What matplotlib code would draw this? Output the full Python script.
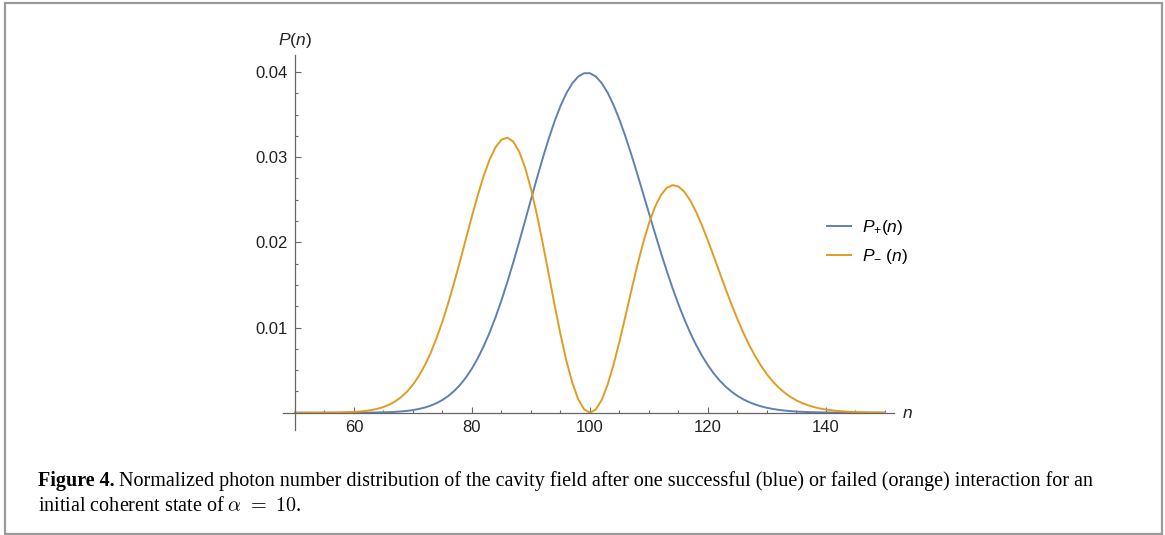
import numpy as np
import matplotlib
matplotlib.use('Agg')
import matplotlib.pyplot as plt
from matplotlib.ticker import MultipleLocator
from matplotlib.patches import Rectangle

# photon number n: coarse in the flat tails, every integer in the middle
n = np.concatenate([np.arange(50, 60, 2), np.arange(60, 141), np.arange(142, 151, 2)])

p_plus = [0.0, 0.0, 0.0000002, 0.0000005, 0.0000016,
          # 60 .. 140
          0.0000045, 0.0000074, 0.0000119, 0.0000188, 0.0000294, 0.0000451, 0.0000683, 0.000102,
          0.000150, 0.000217, 0.000311, 0.000437, 0.000608, 0.000832, 0.001125, 0.001500,
          0.001973, 0.002562, 0.003285, 0.004158, 0.005198, 0.006417, 0.007826, 0.009428,
          0.011224, 0.013205, 0.015355, 0.017649, 0.020056, 0.022535, 0.025039, 0.027515,
          0.029908, 0.032159, 0.034212, 0.036012, 0.037513, 0.038673, 0.039462, 0.039861,
          0.039861, 0.039466, 0.038692, 0.037565, 0.036120, 0.034400, 0.032453, 0.030330,
          0.028083, 0.025764, 0.023422, 0.021101, 0.018840, 0.016673, 0.014625, 0.012718,
          0.010964, 0.009371, 0.007941, 0.006673, 0.005561, 0.004596, 0.003767, 0.003063,
          0.002470, 0.001976, 0.001568, 0.001235, 0.000965, 0.000748, 0.000575, 0.000439,
          0.000333, 0.000250, 0.000187, 0.000138, 0.000102, 0.0000745, 0.0000540, 0.0000388,
          0.0000277,
          # 142 .. 150
          0.0000138, 0.0000067, 0.0000032, 0.0000015, 0.0000007]

p_minus = [0.0000004, 0.0000014, 0.0000045, 0.000013, 0.000036,
           # 60 .. 140
           0.000091, 0.000141, 0.000214, 0.000319, 0.000469, 0.000675, 0.000958, 0.001339,
           0.001839, 0.002480, 0.003307, 0.004315, 0.005560, 0.007031, 0.008760, 0.010732,
           0.012929, 0.015326, 0.017871, 0.020487, 0.023094, 0.025578, 0.027835, 0.029739,
           0.031183, 0.032061, 0.032290, 0.031827, 0.030650, 0.028778, 0.026279, 0.023269,
           0.019873, 0.016278, 0.012656, 0.009204, 0.006104, 0.003521, 0.001589, 0.000399,
           0.0, 0.000391, 0.001527, 0.003319, 0.005647, 0.008362, 0.011306, 0.014313,
           0.017227, 0.019910, 0.022241, 0.024132, 0.025525, 0.026390, 0.026724, 0.026558,
           0.025934, 0.024912, 0.023562, 0.021964, 0.020193, 0.018320, 0.016409, 0.014520,
           0.012695, 0.010973, 0.009378, 0.007933, 0.006638, 0.005497, 0.004503, 0.003656,
           0.002943, 0.002341, 0.001851, 0.001442, 0.001123, 0.000863, 0.000657, 0.000495,
           0.000371,
           # 142 .. 150
           0.000202, 0.000107, 0.000055, 0.000028, 0.000014]

x_ticks = [60, 80, 100, 120, 140]
y_ticks = [0.01, 0.02, 0.03, 0.04]
y_labels = ['0.01', '0.02', '0.03', '0.04']

labels = [r'$P_{+}(n)$', r'$P_{-}\ (n)$']
caption_bold = 'Figure 4.'
caption_1 = ('Normalized photon number distribution of the cavity field after one successful '
             '(blue) or failed (orange) interaction for an')
caption_2 = r'initial coherent state of $\alpha\ =\ 10$.'

plt.rcParams['font.family'] = 'Liberation Sans'
plt.rcParams['mathtext.fontset'] = 'custom'
plt.rcParams['mathtext.rm'] = 'Liberation Sans'
plt.rcParams['mathtext.it'] = 'Liberation Sans:italic'

W, H = 1165, 535
fig = plt.figure(figsize=(W / 100, H / 100), dpi=100)
ax = fig.add_axes([283.2 / W, 105 / H, 611.2 / W, 375 / H])
ax.set_xlim(48.0, 151.6)
ax.set_ylim(-0.00203, 0.0420)

blue = '#5E81B5'
orange = '#E19C24'
l1, = ax.plot(n, p_plus, color=blue, lw=1.4)
l2, = ax.plot(n, p_minus, color=orange, lw=1.4)

# Mathematica-like axes crossing at (50, 0)
for s in ['top', 'right']:
    ax.spines[s].set_visible(False)
ax.spines['left'].set_position(('data', 50))
ax.spines['bottom'].set_position(('data', 0))
for s in ['left', 'bottom']:
    ax.spines[s].set_color('#666666')
    ax.spines[s].set_linewidth(0.9)

ax.set_xticks(x_ticks)
ax.set_yticks(y_ticks, y_labels)
ax.xaxis.set_minor_locator(MultipleLocator(5))
ax.yaxis.set_minor_locator(MultipleLocator(0.0025))
ax.tick_params(which='both', direction='in', color='#666666', width=0.8,
               labelsize=12, labelcolor='#222222')
ax.tick_params(which='major', length=4.5, pad=5)
ax.tick_params(which='minor', length=2.5)

fig.text(295 / W, 1 - 40 / H, r'$P(n)$', ha='center', va='center', fontsize=12.5, color='#222222')
fig.text(902 / W, 1 - 414 / H, r'$n$', ha='left', va='center', fontsize=12.5, color='#222222')

ax.legend([l1, l2], labels, loc='center left', bbox_to_anchor=(827 / W, 1 - 242 / H),
          bbox_transform=fig.transFigure, frameon=False, fontsize=12.5,
          handlelength=1.4, handletextpad=0.6, labelspacing=0.6,
          borderpad=0, borderaxespad=0)

# caption below the plot
cap_size = 14.5
t = fig.text(38 / W, 1 - 486 / H, caption_bold, fontsize=cap_size, fontweight='bold',
             family='Liberation Serif', va='baseline')
r = fig.canvas.get_renderer()
bw = t.get_window_extent(renderer=r).width
fig.text((38 + bw + 4) / W, 1 - 486 / H, caption_1, fontsize=cap_size,
         family='Liberation Serif', va='baseline')
fig.text(38 / W, 1 - 511 / H, caption_2, fontsize=cap_size, family='Liberation Serif',
         va='baseline', math_fontfamily='cm')

fig.add_artist(Rectangle((5 / W, 1 - 534 / H), 1157 / W, 531 / H, transform=fig.transFigure,
                         fill=False, ec='#9a9a9a', lw=1.6))

fig.savefig('out.png', dpi=100)
